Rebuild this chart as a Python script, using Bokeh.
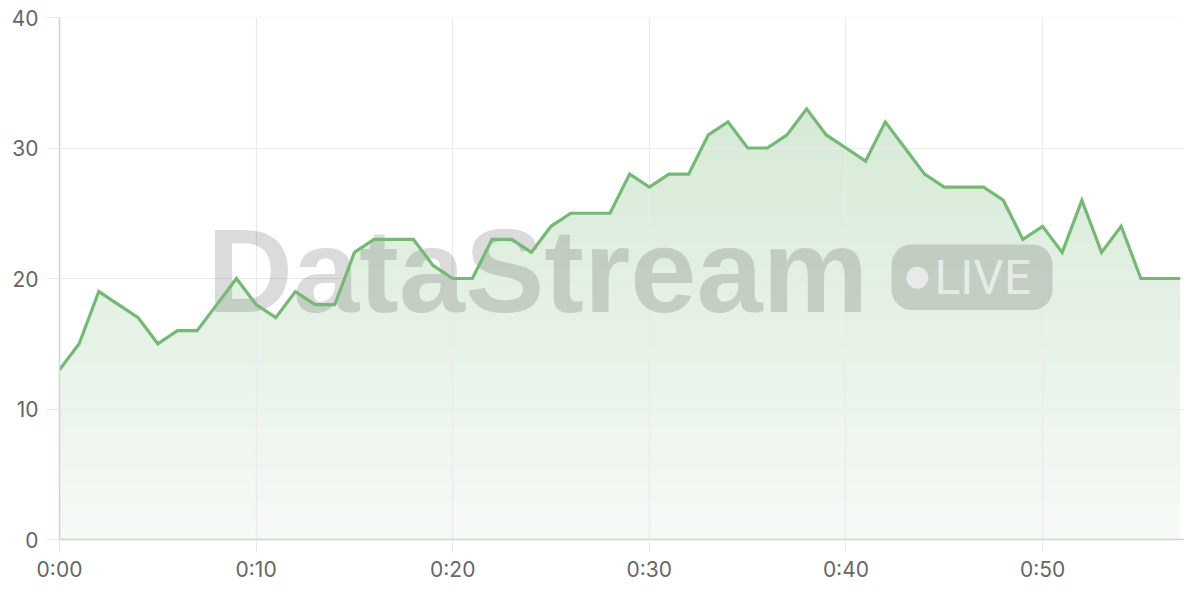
import numpy as np
from bokeh.plotting import figure
from bokeh.models import Range1d, FixedTicker
from bokeh.core.properties import value
from bokeh.embed import file_html
from bokeh.resources import INLINE

# ---- data ----
minutes = list(range(58))
values = [13, 15, 19, 18, 17, 15, 16, 16, 18, 20,
          18, 17, 19, 18, 18, 22, 23, 23, 23, 21,
          20, 20, 23, 23, 22, 24, 25, 25, 25, 28,
          27, 28, 28, 31, 32, 30, 30, 31, 33, 31,
          30, 29, 32, 30, 28, 27, 27, 27, 26, 23,
          24, 22, 26, 22, 24, 20, 20, 20]
x_ticks = [0, 10, 20, 30, 40, 50]
x_tick_labels = ["0:00", "0:10", "0:20", "0:30", "0:40", "0:50"]
y_ticks = [0, 10, 20, 30, 40]
watermark_text = "DataStream"
badge_text = "LIVE"

Y_MAX = 40
LINE_COLOR = "#76b976"
LABEL_FONT = "Inter"

p = figure(width=1184, height=584, output_backend="svg", toolbar_location=None,
           x_range=Range1d(minutes[0], minutes[-1] + 0.22), y_range=Range1d(0, Y_MAX),
           min_border_left=59, min_border_right=0, min_border_top=17, min_border_bottom=44)
p.outline_line_color = None
p.background_fill_color = "white"
p.border_fill_color = "white"

# ---- gradient fill (image under the line, masked above the series) ----
n = 512
a = np.linspace(0.06, 0.33, n)  # bottom -> top opacity
base = np.array([110, 180, 110])
rgb = (255 * (1 - a[:, None]) + base[None, :] * a[:, None]).astype(np.uint32)
img = np.empty((n, 2), dtype=np.uint32)
view = img.view(dtype=np.uint8).reshape((n, 2, 4))
view[:, :, 0] = rgb[:, 0:1]
view[:, :, 1] = rgb[:, 1:2]
view[:, :, 2] = rgb[:, 2:3]
view[:, :, 3] = 255
p.image_rgba(image=[img], x=minutes[0], y=0, dw=minutes[-1] - minutes[0], dh=Y_MAX, level="image")
p.varea(x=minutes, y1=values, y2=[Y_MAX] * len(values), fill_color="white", fill_alpha=1.0, level="image")
p.segment(x0=[minutes[-1]], y0=[values[-1]], x1=[minutes[-1]], y1=[Y_MAX],
          line_color="white", line_width=3, level="image")

# ---- watermark ----
p.text(x=[7.5], y=[20.64], text=[watermark_text], text_font=value("Liberation Sans"),
       text_font_style="bold", text_font_size="119px", text_color="#000000", text_alpha=0.14,
       text_align="left", text_baseline="middle")
p.quad(left=[42.32], right=[50.51], top=[22.6], bottom=[17.59], fill_color="#000000",
       fill_alpha=0.14, line_color=None, border_radius=20)
p.scatter(x=[43.63], y=[20.06], size=22, marker="circle", fill_color="white",
          fill_alpha=0.6, line_color=None)
p.text(x=[44.5], y=[20.1], text=[badge_text], text_font=value("Roboto"),
       text_font_size="48px", text_color="white", text_alpha=0.6,
       text_align="left", text_baseline="middle")

# ---- line ----
p.line(minutes, values, line_color=LINE_COLOR, line_width=3.2, line_join="miter")

# ---- axes ----
p.xaxis.ticker = FixedTicker(ticks=x_ticks)
p.xaxis.major_label_overrides = {t: l for t, l in zip(x_ticks, x_tick_labels)}
p.yaxis.ticker = FixedTicker(ticks=y_ticks)
for ax in (p.xaxis, p.yaxis):
    ax.axis_line_color = "#d2d2d2"
    ax.axis_line_width = 1.5
    ax.major_tick_in = 0
    ax.major_tick_out = 13
    ax.major_tick_line_color = "#e8e8e8"
    ax.minor_tick_line_color = None
    ax.major_label_text_font = LABEL_FONT
    ax.major_label_text_font_size = "21px"
    ax.major_label_text_color = "#666666"
    ax.major_label_standoff = 4
p.yaxis.major_label_standoff = 8

p.xgrid.ticker = FixedTicker(ticks=x_ticks)
p.ygrid.ticker = FixedTicker(ticks=y_ticks)
p.grid.grid_line_color = "#ebebeb"
p.grid.grid_line_width = 1.2

open("out.html", "w").write(file_html(p, INLINE))
